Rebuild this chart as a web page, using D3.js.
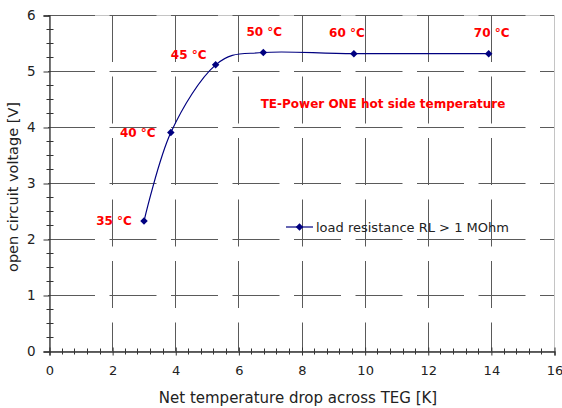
<!DOCTYPE html>
<html>
<head>
<meta charset="utf-8">
<script src="https://cdn.jsdelivr.net/npm/d3@7"></script>
<style>
  body { margin: 0; background: #fff; }
  svg { display: block; font-family: "DejaVu Sans", Verdana, sans-serif; }
</style>
</head>
<body>
<svg id="chart"></svg>
<script>
const deltaT = [3.01, 3.86, 5.28, 6.79, 9.66, 13.93];
const voltage = [2.32, 3.90, 5.11, 5.33, 5.31, 5.31];
const hotSide = ["35 °C", "40 °C", "45 °C", "50 °C", "60 °C", "70 °C"];
const xTicks = [0, 2, 4, 6, 8, 10, 12, 14, 16];
const yTicks = [0, 1, 2, 3, 4, 5, 6];

const width = 562;
const height = 408;
const margin = { left: 49, right: 8, top: 15, bottom: 57 };

let svg = d3.select("#chart").attr("width", width).attr("height", height);

let scX = d3.scaleLinear().domain([0, 16]).range([margin.left, width - margin.right]);
let scY = d3.scaleLinear().domain([0, 6]).range([height - margin.bottom, margin.top]);

// light plot border
svg.append("rect")
    .attr("x", scX(0) + 0.5)
    .attr("y", scY(6) + 0.5)
    .attr("width", scX(16) - scX(0))
    .attr("height", scY(0) - scY(6))
    .attr("fill", "none")
    .attr("stroke", "#c4c4c4");

// dashed grid
let grid = svg.append("g").attr("stroke", "#5a5a5a").attr("stroke-width", 1)
    .attr("stroke-dasharray", "47,14.5");
grid.selectAll(".gx")
    .data(xTicks.filter((d) => d > 0 && d < 16))
    .enter()
    .append("line")
    .attr("x1", (d) => Math.round(scX(d)) + 0.5)
    .attr("x2", (d) => Math.round(scX(d)) + 0.5)
    .attr("y1", scY(6))
    .attr("y2", scY(0));
grid.selectAll(".gy")
    .data(yTicks.filter((d) => d > 0))
    .enter()
    .append("line")
    .attr("y1", (d) => Math.round(scY(d)) + 0.5)
    .attr("y2", (d) => Math.round(scY(d)) + 0.5)
    .attr("x1", scX(0) - 1)
    .attr("x2", scX(16));

// axes
let axisX = d3.axisBottom(scX).tickValues(xTicks).tickSize(4).tickPadding(10)
    .tickFormat(d3.format("d"));
let gX = svg.append("g")
    .attr("transform", `translate(0.5, ${Math.round(scY(0)) + 0.5})`)
    .call(axisX);
gX.select(".domain").attr("stroke", "#333").attr("stroke-width", 1.3);
gX.selectAll(".tick line").attr("y1", -4).attr("stroke", "#333");
gX.selectAll("text").attr("font-size", 13).attr("fill", "#222")
    .attr("font-family", "DejaVu Sans");
gX.selectAll(".minor")
    .data(d3.range(0, 16.01, 0.4).filter((d) => Math.abs(d / 2 - Math.round(d / 2)) > 0.01))
    .enter()
    .append("line")
    .attr("x1", (d) => Math.round(scX(d)))
    .attr("x2", (d) => Math.round(scX(d)))
    .attr("y1", -3)
    .attr("y2", 3)
    .attr("stroke", "#333");

let axisY = d3.axisLeft(scY).tickValues(yTicks).tickSize(6).tickPadding(8)
    .tickFormat(d3.format("d"));
let gY = svg.append("g")
    .attr("transform", `translate(${Math.round(scX(0)) + 0.5}, 0.5)`)
    .call(axisY);
gY.select(".domain").attr("stroke", "#333").attr("stroke-width", 1.3);
gY.selectAll(".tick line").attr("stroke", "#333");
gY.selectAll("text").attr("font-size", 13.5).attr("fill", "#222")
    .attr("font-family", "DejaVu Sans");
gY.selectAll(".minor")
    .data(d3.range(0, 6.01, 0.25).filter((d) => Math.abs(d - Math.round(d)) > 0.01))
    .enter()
    .append("line")
    .attr("y1", (d) => Math.round(scY(d)))
    .attr("y2", (d) => Math.round(scY(d)))
    .attr("x1", -3)
    .attr("x2", 4)
    .attr("stroke", "#333");

// axis titles
svg.append("text")
    .attr("x", 298)
    .attr("y", 403)
    .attr("text-anchor", "middle")
    .attr("font-size", 15)
    .attr("fill", "#222")
    .text("Net temperature drop across TEG [K]");

svg.append("text")
    .attr("transform", `translate(18, 187) rotate(-90)`)
    .attr("text-anchor", "middle")
    .attr("font-size", 14.5)
    .attr("fill", "#222")
    .text("open circuit voltage [V]");

// data line, smoothed like the spreadsheet
const pts = deltaT.map((d, i) => [d, voltage[i]]);
let line = d3.line()
    .x((d) => scX(d[0]))
    .y((d) => scY(d[1]))
    .curve(d3.curveCardinal.tension(0));
svg.append("path")
    .attr("d", line(pts))
    .attr("fill", "none")
    .attr("stroke", "#000080")
    .attr("stroke-width", 1.2);

// square turned 45 degrees, like the spreadsheet marker
let diamond = d3.symbol().type(d3.symbolSquare).size(28);
svg.selectAll(".dot")
    .data(pts)
    .enter()
    .append("path")
    .attr("d", diamond)
    .attr("transform", (d) => `translate(${scX(d[0])}, ${scY(d[1])}) rotate(45)`)
    .attr("fill", "#000080");

// hot side temperature labels, offset from their points
const labelOff = [[-30, 4], [-33, 4], [-27, -6], [1, -17], [-7, -17], [3, -17]];
svg.selectAll(".lab")
    .data(pts)
    .enter()
    .append("text")
    .attr("x", (d, i) => scX(d[0]) + labelOff[i][0])
    .attr("y", (d, i) => scY(d[1]) + labelOff[i][1])
    .attr("text-anchor", "middle")
    .attr("font-size", 12)
    .attr("font-weight", "bold")
    .attr("fill", "#ff0000")
    .text((d, i) => hotSide[i]);

svg.append("text")
    .attr("x", 383)
    .attr("y", 107.5)
    .attr("text-anchor", "middle")
    .attr("font-size", 12)
    .attr("font-weight", "bold")
    .attr("fill", "#ff0000")
    .text("TE-Power ONE hot side temperature");

// legend
let leg = svg.append("g").attr("transform", "translate(286, 227)");
leg.append("line").attr("x1", 0).attr("x2", 27).attr("y1", 0).attr("y2", 0)
    .attr("stroke", "#000080").attr("stroke-width", 1.2);
leg.append("path").attr("d", diamond).attr("transform", "translate(13.5, 0) rotate(45)")
    .attr("fill", "#000080");
leg.append("text")
    .attr("x", 30)
    .attr("y", 4.5)
    .attr("font-size", 13)
    .attr("fill", "#222")
    .text("load resistance RL > 1 MOhm");
</script>
</body>
</html>
